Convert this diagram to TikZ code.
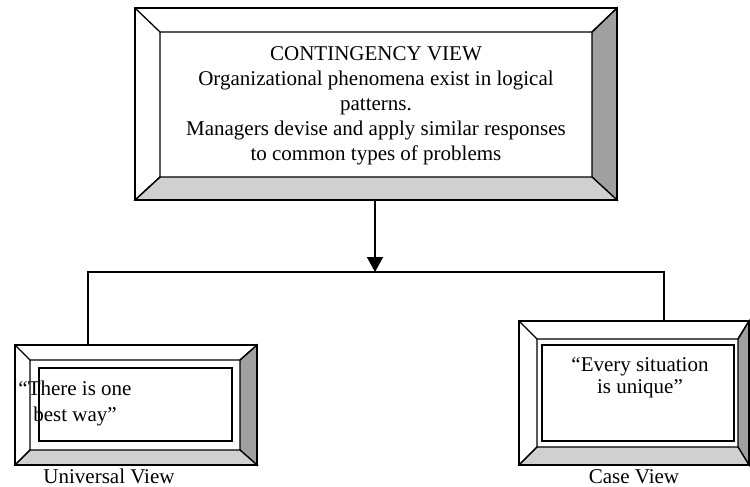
\documentclass[tikz,border=0pt]{standalone}
\usepackage{fontspec}
\setmainfont{Liberation Serif}
\usetikzlibrary{calc,arrows.meta}

\definecolor{bevdark}{HTML}{A0A0A0}
\definecolor{bevlight}{HTML}{D0D0D0}

\tikzset{
  edge/.style={line width=1.3pt, line join=miter},
  boxshape/.style={rectangle, inner sep=0pt, outer sep=0pt},
  txt/.style={font=\fontsize{21}{25}\selectfont, inner sep=0pt, align=center},
  link/.style={line width=1.2pt},
}

% bevelled frame around node #1 with bevel widths left/top/right/bottom
\newcommand\bevelframe[5]{%
  \coordinate (#1-a) at ($(#1.north west)+(#2,#3)$);
  \coordinate (#1-b) at ($(#1.north east)+(-#4,#3)$);
  \coordinate (#1-c) at ($(#1.south east)+(-#4,-#5)$);
  \coordinate (#1-d) at ($(#1.south west)+(#2,-#5)$);
  \filldraw[edge, fill=bevdark] (#1.north east) -- (#1-b) -- (#1-c) -- (#1.south east) -- cycle;
  \filldraw[edge, fill=bevlight] (#1.south west) -- (#1-d) -- (#1-c) -- (#1.south east) -- cycle;
  \draw[edge] (#1.north west) -- (#1-a) -- (#1-b) -- (#1.north east);
  \draw[edge] (#1.south west) -- (#1-d) -- (#1-a);
  \draw[edge] (#1.north west) rectangle (#1.south east);
}

\begin{document}
\begin{tikzpicture}[x=1pt, y=-1pt]
  \useasboundingbox (0,0) rectangle (750,487);

  % top box
  \node[boxshape, minimum width=482pt, minimum height=192pt] (top) at (376,104) {};
  \bevelframe{top}{25}{24}{25}{23}
  \node[txt] (toptext) at (376,106) {CONTINGENCY VIEW\\
    Organizational phenomena exist in logical\\
    patterns.\\
    Managers devise and apply similar responses\\
    to common types of problems};

  % universal view box
  \node[boxshape, minimum width=242pt, minimum height=120pt] (ubox) at (136,405) {};
  \bevelframe{ubox}{15}{15}{17}{15}
  \draw[line width=1.1pt] ($(ubox.north west)+(24,23)$) rectangle ($(ubox.south east)+(-25,-24)$);
  \node[txt, font=\fontsize{21}{26}\selectfont] (utext) at (75,403) {``There is one\\best way''};
  \node[txt, anchor=base] (ulabel) at (109,483) {Universal View};

  % case view box
  \node[boxshape, minimum width=230pt, minimum height=144pt] (cbox) at (634,393) {};
  \bevelframe{cbox}{18}{18}{11}{18}
  \draw[line width=1.1pt] ($(cbox.north west)+(23,24)$) rectangle ($(cbox.south east)+(-15,-24)$);
  \node[txt, font=\fontsize{21}{22}\selectfont] (ctext) at (640,378) {``Every situation\\is unique''};
  \node[txt, anchor=base] (clabel) at (634,483) {Case View};

  % connectors
  \coordinate (junction) at (375,272);
  \coordinate (uin) at (88,345);
  \coordinate (cin) at (664,321);
  \draw[line width=1.7pt, -{Triangle[width=16pt,length=15pt]}] (top.south -| junction) -- (junction);
  \draw[link] (uin) -- (uin |- junction) -- (cin |- junction) -- (cin);
\end{tikzpicture}
\end{document}
